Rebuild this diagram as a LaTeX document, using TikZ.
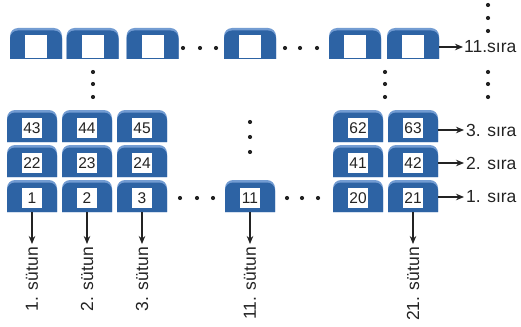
\documentclass[tikz,border=0pt]{standalone}
\usepackage{fontspec}
\setmainfont{Liberation Sans}
\usetikzlibrary{arrows.meta}
\definecolor{seatblue}{RGB}{45,99,164}
\definecolor{seatlight}{RGB}{115,156,210}
\definecolor{txt}{RGB}{35,35,35}
\tikzset{
  seatbox/.style={inner sep=0pt, outer sep=0pt, draw=none},
  numbox/.style={fill=white, inner sep=0pt, outer sep=0pt, text=txt,
    font=\fontsize{15.5}{15.5}\selectfont},
  lab/.style={text=txt, inner sep=0pt, font=\fontsize{17.5}{17.5}\selectfont},
  arr/.style={-{Stealth[length=8pt,width=6.5pt]}, line width=1.1pt, draw=txt},
  dotc/.style={fill=txt}
}
% #1 name, #2 x centre, #3 y centre (pixels, down), #4 width, #5 height
\newcommand{\seatshape}[5]{%
  \begin{scope}[shift={(#2,-#3)}]
    \fill[seatlight] (-#4/2,-#5/2) -- (-#4/2,#5/2-8)
      arc[start angle=180,end angle=90,radius=8] -- (#4/2-8,#5/2)
      arc[start angle=90,end angle=0,radius=8] -- (#4/2,-#5/2) -- cycle;
    \fill[seatblue] (-#4/2,-#5/2) -- (-#4/2,#5/2-10.5)
      arc[start angle=180,end angle=90,radius=8] -- (#4/2-8,#5/2-2.5)
      arc[start angle=90,end angle=0,radius=8] -- (#4/2,-#5/2) -- cycle;
  \end{scope}
  \node[seatbox, minimum width=#4, minimum height=#5] (#1) at (#2,-#3) {};}
% lower seat: name, x, y, number
\newcommand{\lowseat}[4]{%
  \seatshape{#1}{#2}{#3}{50}{32}%
  \node[numbox, minimum width=20, minimum height=20] (#1n) at (#2,-#3-2) {#4};}
% top seat: name, x
\newcommand{\topseat}[2]{%
  \seatshape{#1}{#2}{43.5}{52}{31}%
  \node[numbox, minimum width=22, minimum height=23] (#1n) at (#2,-46.5) {};}
\begin{document}
\begin{tikzpicture}[x=1pt,y=1pt]
\useasboundingbox (0,0) rectangle (521,-326);
% top row (11. sira)
\topseat{t1}{36}
\topseat{t2}{92.5}
\topseat{t3}{152.5}
\topseat{t4}{250}
\topseat{t5}{355}
\topseat{t6}{413}
% lower rows
\lowseat{a1}{32}{196}{1}
\lowseat{a2}{87}{196}{2}
\lowseat{a3}{142}{196}{3}
\lowseat{a11}{250}{196}{11}
\lowseat{a20}{358}{196}{20}
\lowseat{a21}{413}{196}{21}
\lowseat{b1}{32}{161}{22}
\lowseat{b2}{87}{161}{23}
\lowseat{b3}{142}{161}{24}
\lowseat{b20}{358}{161}{41}
\lowseat{b21}{413}{161}{42}
\lowseat{c1}{32}{126}{43}
\lowseat{c2}{87}{126}{44}
\lowseat{c3}{142}{126}{45}
\lowseat{c20}{358}{126}{62}
\lowseat{c21}{413}{126}{63}
% dots
\foreach \x in {183,200,216,285,300,317} \fill[dotc] (\x,-48) circle (2.1);
\foreach \x in {180,197,213,287,302,318} \fill[dotc] (\x,-198) circle (2.1);
\foreach \y in {72,84,97} {
  \fill[dotc] (93,-\y) circle (2.1);
  \fill[dotc] (385,-\y) circle (2.1);
  \fill[dotc] (488,-\y) circle (2.1);}
\foreach \y in {5,18,31} \fill[dotc] (488,-\y) circle (2.1);
\foreach \y in {122,137,152} \fill[dotc] (250,-\y) circle (2.1);
% row labels
\node[lab, anchor=west] (r11) at (464,-47) {11.sıra};
\node[lab, anchor=west] (r3) at (466,-130) {3. sıra};
\node[lab, anchor=west] (r2) at (466,-163) {2. sıra};
\node[lab, anchor=west] (r1) at (466,-197) {1. sıra};
\draw[arr] (r11.west -| t6.east) -- ([xshift=-1pt]r11.west);
\draw[arr] (r3.west -| c21.east) -- ([xshift=-2pt]r3.west);
\draw[arr] (r2.west -| b21.east) -- ([xshift=-2pt]r2.west);
\draw[arr] (r1.west -| a21.east) -- ([xshift=-2pt]r1.west);
% column labels
\node[lab, rotate=90, anchor=east] (k1) at (32,-247) {1. sütun};
\node[lab, rotate=90, anchor=east] (k2) at (87,-247) {2. sütun};
\node[lab, rotate=90, anchor=east] (k3) at (142,-247) {3. sütun};
\node[lab, rotate=90, anchor=east] (k11) at (250,-247) {11. sütun};
\node[lab, rotate=90, anchor=east] (k21) at (413,-247) {21. sütun};
\foreach \s/\k in {a1/k1,a2/k2,a3/k3,a11/k11,a21/k21}
  \draw[arr] (\s.south) -- ([yshift=3pt]\k.east);
\end{tikzpicture}
\end{document}
